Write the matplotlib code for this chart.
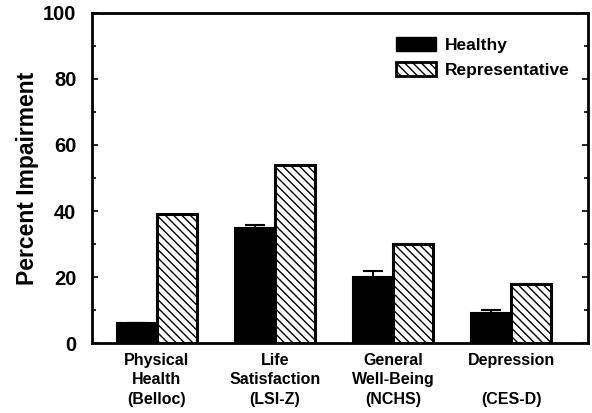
import numpy as np
import matplotlib
matplotlib.use('Agg')
import matplotlib.pyplot as plt
from matplotlib.patches import Patch
from matplotlib.ticker import MultipleLocator

categories = ['Physical\nHealth\n(Belloc)', 'Life\nSatisfaction\n(LSI-Z)',
              'General\nWell-Being\n(NCHS)', 'Depression\n\n(CES-D)']
healthy = [6, 35, 20, 9]
healthy_err = [0, 0.8, 2, 1]
representative = [39, 54, 30, 18]

plt.rcParams['font.family'] = ['Liberation Sans', 'DejaVu Sans']
plt.rcParams['font.weight'] = 'bold'
plt.rcParams['hatch.linewidth'] = 1.0

fig = plt.figure(figsize=(5.92, 4.13), dpi=100)
ax = fig.add_axes([0.155, 0.169, 0.838, 0.8])

x = np.arange(len(categories))
w = 0.34
ax.bar(x - w / 2, healthy, w, color='black', edgecolor='black', linewidth=1.5,
       yerr=[np.zeros(len(healthy)), healthy_err], capsize=7,
       error_kw={'elinewidth': 1.5, 'capthick': 1.5, 'ecolor': 'black'})
ax.bar(x + w / 2, representative, w, color='white', edgecolor='black',
       linewidth=2.2, hatch=r'\\\\')

ax.set_xlim(-0.55, 3.65)
ax.set_ylim(0, 100)
ax.yaxis.set_major_locator(MultipleLocator(20))
ax.yaxis.set_minor_locator(MultipleLocator(10))
ax.tick_params(axis='y', which='both', direction='in', right=True,
               width=1.2, labelsize=14.5, pad=11)
ax.tick_params(axis='y', which='major', length=4)
ax.tick_params(axis='y', which='minor', length=3)
ax.set_xticks(x)
ax.set_xticklabels(categories, fontsize=11.5, linespacing=1.38)
ax.tick_params(axis='x', length=0, pad=7)
for s in ax.spines.values():
    s.set_linewidth(2)

ax.set_ylabel('Percent Impairment', fontsize=16.5, fontweight='bold', labelpad=3)

handles = [Patch(facecolor='black', edgecolor='black', label='Healthy'),
           Patch(facecolor='white', edgecolor='black', hatch=r'\\\\',
                 linewidth=2, label='Representative')]
ax.legend(handles=handles, loc='upper right', bbox_to_anchor=(0.995, 0.975),
          frameon=False, fontsize=12.5, handlelength=2.3, handleheight=0.85,
          handletextpad=0.5, labelspacing=0.55)

fig.savefig('out.png', dpi=100)
